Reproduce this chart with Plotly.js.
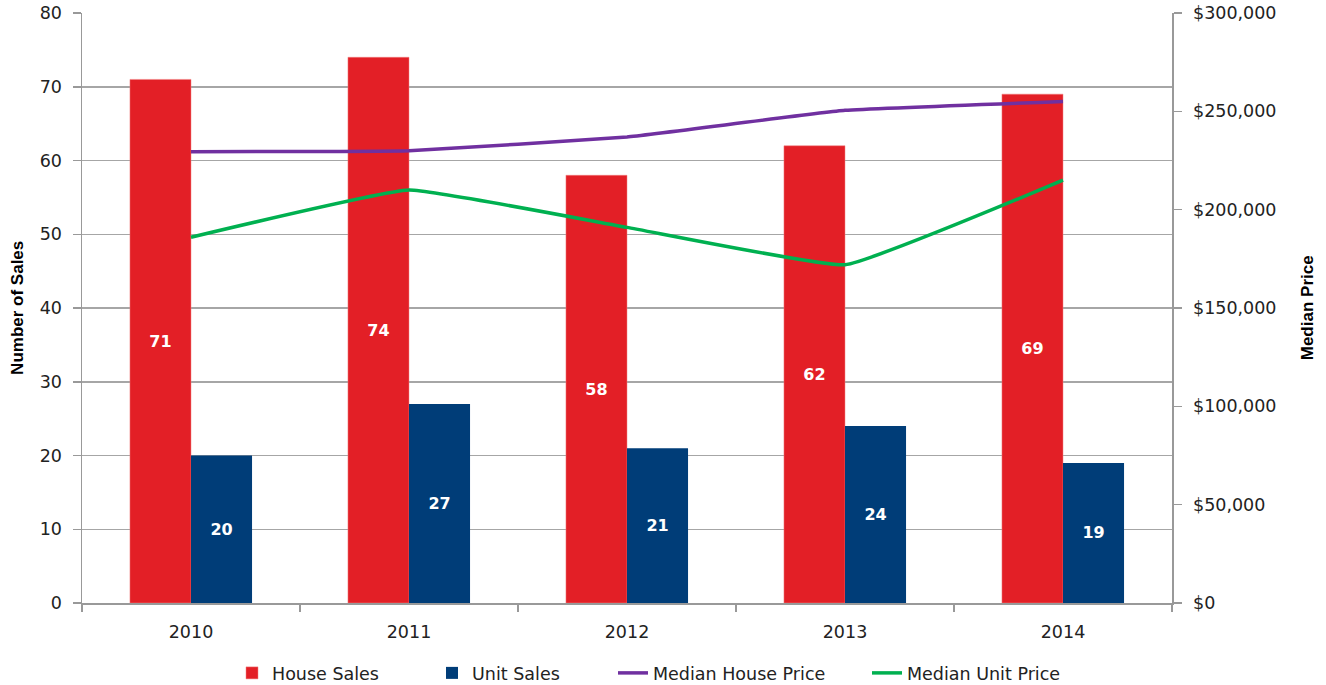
<!DOCTYPE html>
<html>
<head>
<meta charset="utf-8">
<script src="https://cdn.plot.ly/plotly-3.0.1.min.js"></script>
<style>html,body{margin:0;padding:0;background:#fff;}#chart{width:1326px;height:685px;}</style>
</head>
<body>
<div id="chart"></div>
<script>
const years = ['2010', '2011', '2012', '2013', '2014'];
const houseSales = [71, 74, 58, 62, 69];
const unitSales = [20, 27, 21, 24, 19];
const medianHousePrice = [229500, 230000, 237000, 250500, 255000];
const medianUnitPrice = [186000, 210000, 191000, 172000, 215000];

const labelFont = {family: 'DejaVu Sans', size: 16, color: '#ffffff', weight: 'bold'};

const traces = [
  {
    type: 'bar', name: 'House Sales', x: years, y: houseSales, legend: 'legend',
    marker: {color: '#e31f26', line: {color: '#f08080', width: 0.5}},
    text: houseSales.map(String), textposition: 'inside', insidetextanchor: 'middle',
    textangle: 0, constraintext: 'none', textfont: labelFont, hoverinfo: 'x+y'
  },
  {
    type: 'bar', name: 'Unit Sales', x: years, y: unitSales, legend: 'legend2',
    marker: {color: '#003d78'},
    text: unitSales.map(String), textposition: 'inside', insidetextanchor: 'middle',
    textangle: 0, constraintext: 'none', textfont: labelFont, hoverinfo: 'x+y'
  },
  {
    type: 'scatter', mode: 'lines', name: 'Median House Price', x: years, y: medianHousePrice,
    yaxis: 'y2', legend: 'legend3', line: {color: '#7030a0', width: 3.5, shape: 'spline', smoothing: 0.3}
  },
  {
    type: 'scatter', mode: 'lines', name: 'Median Unit Price', x: years, y: medianUnitPrice,
    yaxis: 'y2', legend: 'legend4', line: {color: '#00b050', width: 3.5, shape: 'spline', smoothing: 0.3}
  }
];

const tickFont = {family: 'DejaVu Sans', size: 17.5, color: '#222'};
const legFont = {family: 'DejaVu Sans', size: 17.5, color: '#222'};
const titleFont = {family: 'Liberation Sans', size: 17, color: '#000', weight: 'bold'};
function leg(px) {
  return {orientation: 'h', x: px / 1326, xanchor: 'left', xref: 'container',
          y: 0.0175, yanchor: 'middle', yref: 'container', font: legFont,
          bgcolor: 'rgba(0,0,0,0)', borderwidth: 0};
}

const layout = {
  width: 1326, height: 685,
  margin: {l: 82, r: 154, t: 13, b: 82, autoexpand: false},
  paper_bgcolor: '#ffffff', plot_bgcolor: '#ffffff',
  barmode: 'group', bargap: 0.44, bargroupgap: 0,
  showlegend: true,
  legend: leg(232),
  legend2: leg(432),
  legend3: leg(613),
  legend4: leg(867),
  xaxis: {
    type: 'category', showline: true, linecolor: '#999', linewidth: 1.5,
    ticks: 'outside', tickson: 'boundaries', ticklen: 7, tickcolor: '#999', tickwidth: 1.5,
    tickfont: tickFont, showgrid: false, zeroline: false, automargin: false,
    ticklabelstandoff: 12
  },
  yaxis: {
    range: [0, 80], dtick: 10, showline: true, linecolor: '#999', linewidth: 1.5,
    ticks: 'outside', ticklen: 8, tickcolor: '#999', tickwidth: 1.5,
    showgrid: true, gridcolor: '#a6a6a6', gridwidth: 1.5, zeroline: false,
    tickfont: tickFont, automargin: false, ticklabelstandoff: 7
  },
  yaxis2: {
    range: [0, 300000], dtick: 50000, overlaying: 'y', side: 'right',
    showline: true, linecolor: '#999', linewidth: 1.5,
    ticks: 'outside', ticklen: 8, tickcolor: '#999', tickwidth: 1.5,
    showgrid: false, zeroline: false, tickprefix: '$', tickformat: ',d',
    tickfont: tickFont, automargin: false, ticklabelstandoff: 8
  },
  annotations: [
    {text: 'Number of Sales', textangle: -90, xref: 'paper', yref: 'paper',
     x: (17 - 82) / 1088, y: 0.5, xanchor: 'center', yanchor: 'middle',
     showarrow: false, font: titleFont},
    {text: 'Median Price', textangle: -90, xref: 'paper', yref: 'paper',
     x: (1305 - 82) / 1088, y: 0.5, xanchor: 'center', yanchor: 'middle',
     showarrow: false, font: titleFont}
  ]
};

Plotly.newPlot('chart', traces, layout, {displayModeBar: false, staticPlot: true});
</script>
</body>
</html>
